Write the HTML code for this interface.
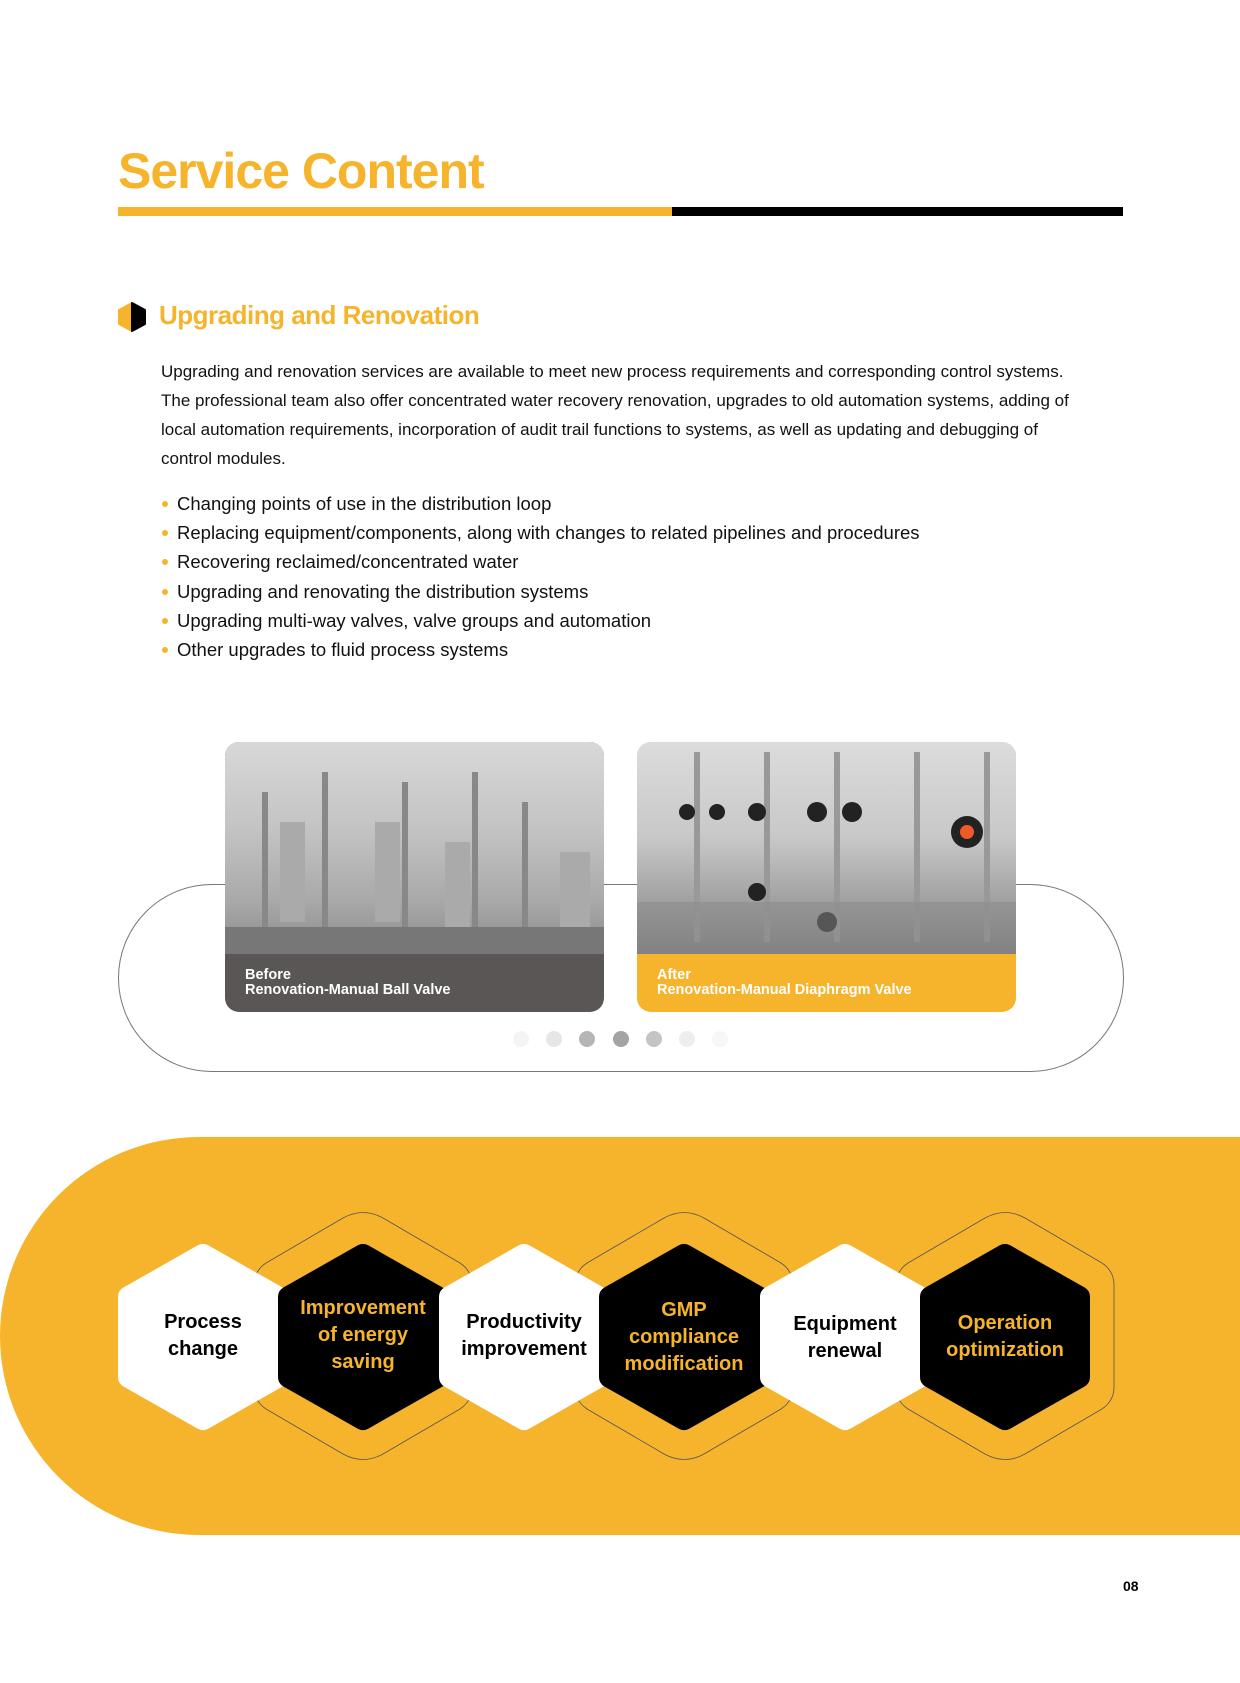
<!DOCTYPE html>
<html><head><meta charset="utf-8"><style>
body{margin:0;width:1240px;height:1683px;background:#fff;position:relative;overflow:hidden;font-family:"Liberation Sans",sans-serif;}
.a{position:absolute;}
h1{position:absolute;left:118px;top:142px;margin:0;font-size:50px;font-weight:bold;color:#F6B42C;letter-spacing:-1px;}
.sub{left:159px;top:300px;font-size:26px;font-weight:bold;color:#F6B42C;letter-spacing:-0.5px;}
.p{left:161px;top:357px;width:920px;font-size:17px;line-height:29px;color:#111;}
ul{position:absolute;left:161px;top:489px;margin:0;padding:0;list-style:none;font-size:18.5px;line-height:29.2px;color:#111;}
ul li{padding-left:16px;position:relative;}
ul li:before{content:"";position:absolute;left:1px;top:12px;width:6px;height:6px;border-radius:50%;background:#F6B42C;}
.card{position:absolute;top:742px;width:379px;height:270px;border-radius:14px;overflow:hidden;}
.ph{position:absolute;left:0;top:0;width:100%;height:212px;}
.cap{position:absolute;left:20px;top:226px;color:#fff;font-size:14.5px;font-weight:bold;line-height:15px;}
.dot{position:absolute;top:1031px;width:16px;height:16px;border-radius:50%;}
</style></head><body>
<h1>Service Content</h1>
<div class="a" style="left:118px;top:207px;width:554px;height:9px;background:#F6B42C"></div>
<div class="a" style="left:672px;top:207px;width:451px;height:9px;background:#000"></div>
<svg class="a" style="left:118px;top:302px" width="30" height="30" viewBox="0 0 30 30"><polygon points="14,1 27,8 27,22 14,29 1,22 1,8" fill="#F6B42C" stroke="#F6B42C" stroke-width="2" stroke-linejoin="round"/><polygon points="14,1 27,8 27,22 14,29" fill="#000" stroke="#000" stroke-width="2" stroke-linejoin="round"/></svg>
<div class="a sub">Upgrading and Renovation</div>
<div class="a p">Upgrading and renovation services are available to meet new process requirements and corresponding control systems. The professional team also offer concentrated water recovery renovation, upgrades to old automation systems, adding of local automation requirements, incorporation of audit trail functions to systems, as well as updating and debugging of control modules.</div>
<ul>
<li>Changing points of use in the distribution loop</li>
<li>Replacing equipment/components, along with changes to related pipelines and procedures</li>
<li>Recovering reclaimed/concentrated water</li>
<li>Upgrading and renovating the distribution systems</li>
<li>Upgrading multi-way valves, valve groups and automation</li>
<li>Other upgrades to fluid process systems</li>
</ul>
<div class="a" style="left:118px;top:884px;width:1004px;height:186px;border:1px solid #777;border-radius:94px;"></div>
<div class="card" style="left:225px;background:#5a5656">
<div class="ph" style="background:linear-gradient(180deg,#d8d8d8 0%,#c4c4c4 40%,#a9a9a9 75%,#8a8a8a 100%)">
<svg width="379" height="212"><g stroke="#888" stroke-width="6" fill="none"><line x1="40" y1="50" x2="40" y2="200"/><line x1="100" y1="30" x2="100" y2="190"/><line x1="180" y1="40" x2="180" y2="200"/><line x1="250" y1="30" x2="250" y2="200"/><line x1="300" y1="60" x2="300" y2="200"/></g><g fill="#aaa"><rect x="55" y="80" width="25" height="100"/><rect x="150" y="80" width="25" height="100"/><rect x="220" y="100" width="25" height="90"/><rect x="335" y="110" width="30" height="90"/></g><rect x="0" y="185" width="379" height="27" fill="#777"/></svg></div>
<div class="cap">Before<br>Renovation-Manual Ball Valve</div></div>
<div class="card" style="left:637px;background:#F6B42C">
<div class="ph" style="background:linear-gradient(180deg,#dcdcdc 0%,#c8c8c8 45%,#9a9a9a 80%,#7a7a7a 100%)">
<svg width="379" height="212"><g stroke="#999" stroke-width="6"><line x1="60" y1="10" x2="60" y2="200"/><line x1="130" y1="10" x2="130" y2="200"/><line x1="200" y1="10" x2="200" y2="200"/><line x1="280" y1="10" x2="280" y2="200"/><line x1="350" y1="10" x2="350" y2="200"/></g><g fill="#222"><circle cx="50" cy="70" r="8"/><circle cx="80" cy="70" r="8"/><circle cx="120" cy="70" r="9"/><circle cx="180" cy="70" r="10"/><circle cx="215" cy="70" r="10"/><circle cx="330" cy="90" r="16"/><circle cx="120" cy="150" r="9"/><circle cx="190" cy="180" r="10"/></g><circle cx="330" cy="90" r="7" fill="#f05a28"/><rect x="0" y="160" width="379" height="52" fill="#8a8a8a" opacity=".5"/></svg></div>
<div class="cap">After<br>Renovation-Manual Diaphragm Valve</div></div>
<div class="dot" style="left:513px;background:#f4f4f4"></div>
<div class="dot" style="left:546px;background:#e6e6e6"></div>
<div class="dot" style="left:579px;background:#b5b5b5"></div>
<div class="dot" style="left:613px;background:#a3a3a3"></div>
<div class="dot" style="left:646px;background:#c4c4c4"></div>
<div class="dot" style="left:679px;background:#eeeeee"></div>
<div class="dot" style="left:712px;background:#f7f7f7"></div>
<div class="a" style="left:0;top:1137px;width:1300px;height:398px;background:#F6B42C;border-radius:200px 0 0 200px"></div>
<svg class="a" style="left:0;top:1137px" width="1240" height="398" font-family="Liberation Sans,sans-serif" font-weight="bold" text-anchor="middle">
<g fill="none" stroke="#555" stroke-width="0.8" stroke-linejoin="round">
<path d="M343,81 Q363,70 383,81 L460,126 Q472,134 472,148 L472,250 Q472,264 460,272 L383,317 Q363,328 343,317 L266,272 Q254,264 254,250 L254,148 Q254,134 266,126 Z"/>
<path d="M664,81 Q684,70 704,81 L781,126 Q793,134 793,148 L793,250 Q793,264 781,272 L704,317 Q684,328 664,317 L587,272 Q575,264 575,250 L575,148 Q575,134 587,126 Z"/>
<path d="M985,81 Q1005,70 1025,81 L1102,126 Q1114,134 1114,148 L1114,250 Q1114,264 1102,272 L1025,317 Q1005,328 985,317 L908,272 Q896,264 896,250 L896,148 Q896,134 908,126 Z"/>
</g>
<g stroke-width="22" stroke-linejoin="round">
<polygon fill="#fff" stroke="#fff" points="203,118 277,160 277,240 203,282 129,240 129,160"/>
<polygon fill="#000" stroke="#000" points="363,118 437,160 437,240 363,282 289,240 289,160"/>
<polygon fill="#fff" stroke="#fff" points="524,118 598,160 598,240 524,282 450,240 450,160"/>
<polygon fill="#000" stroke="#000" points="684,118 758,160 758,240 684,282 610,240 610,160"/>
<polygon fill="#fff" stroke="#fff" points="845,118 919,160 919,240 845,282 771,240 771,160"/>
<polygon fill="#000" stroke="#000" points="1005,118 1079,160 1079,240 1005,282 931,240 931,160"/>
</g>
<g font-size="20" fill="#000"><text x="203" y="191">Process</text><text x="203" y="218">change</text>
<text x="524" y="191">Productivity</text><text x="524" y="218">improvement</text>
<text x="845" y="193">Equipment</text><text x="845" y="220">renewal</text></g>
<g font-size="20" fill="#F6B42C"><text x="363" y="177">Improvement</text><text x="363" y="204">of energy</text><text x="363" y="231">saving</text>
<text x="684" y="179">GMP</text><text x="684" y="206">compliance</text><text x="684" y="233">modification</text>
<text x="1005" y="192">Operation</text><text x="1005" y="219">optimization</text></g>
</svg>
<div class="a" style="left:1123px;top:1578px;font-size:14px;font-weight:bold">08</div>
</body></html>
